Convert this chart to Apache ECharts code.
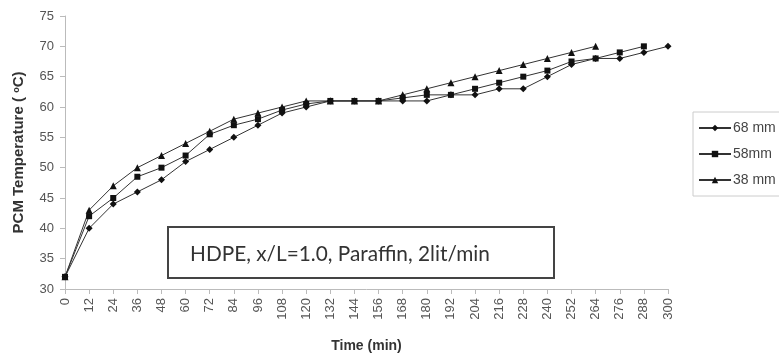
<!DOCTYPE html>
<html>
<head>
<meta charset="utf-8">
<script src="https://cdn.jsdelivr.net/npm/echarts@6/dist/echarts.min.js"></script>
<style>
html,body{margin:0;padding:0;background:#fff;}
#chart{width:779px;height:358px;}
</style>
</head>
<body>
<div id="chart"></div>
<script>
var timeLabels = ['0','12','24','36','48','60','72','84','96','108','120','132','144','156','168','180','192','204','216','228','240','252','264','276','288','300'];
var s68 = [32,40,44,46,48,51,53,55,57,59,60,61,61,61,61,61,62,62,63,63,65,67,68,68,69,70];
var s58 = [32,42,45,48.5,50,52,55.5,57,58,59.5,60.5,61,61,61,61.5,62,62,63,64,65,66,67.5,68,69,70];
var s38 = [32,43,47,50,52,54,56,58,59,60,61,61,61,61,62,63,64,65,66,67,68,69,70];
var seriesNames = ['68 mm','58mm','38 mm'];
var annotation = 'HDPE, x/L=1.0, Paraffin, 2lit/min';

var chart = echarts.init(document.getElementById('chart'));
var lineStyle = {color:'#333', width:1};
function mk(name, data, symbol, size){
  return {name:name, type:'line', data:data, symbol:symbol, symbolSize:size,
    showAllSymbol:true, lineStyle:lineStyle, itemStyle:{color:'#111'}, animation:false};
}
var F = 'Liberation Sans, Arial';
chart.setOption({
  animation:false,
  grid:{left:65, right:111, top:16, bottom:68},
  legend:{
    orient:'vertical', left:693, top:112, width:140,
    data:seriesNames,
    itemWidth:32, itemHeight:8, itemGap:12,
    padding:[9,60,9,5],
    borderColor:'#ccc', borderWidth:1,
    textStyle:{fontFamily:F, fontSize:14, color:'#444', padding:[0,0,0,-3]}
  },
  xAxis:{
    type:'category', data:timeLabels, boundaryGap:false,
    name:'Time (min)', nameLocation:'middle', nameGap:50,
    nameTextStyle:{fontFamily:F, fontWeight:'bold', fontSize:14, color:'#333'},
    axisLine:{lineStyle:{color:'#bbb'}},
    axisTick:{show:true, alignWithLabel:true, lineStyle:{color:'#bbb'}},
    axisLabel:{rotate:90, fontFamily:F, fontSize:13, color:'#555', interval:0, margin:9}
  },
  yAxis:{
    type:'value', min:30, max:75, interval:5,
    name:'{a|PCM Temperature ( }{s|o}{a|C)}', nameLocation:'middle', nameGap:38,
    nameTextStyle:{rich:{
      a:{fontFamily:F, fontWeight:'bold', fontSize:15, color:'#333'},
      s:{fontFamily:F, fontWeight:'bold', fontSize:9, color:'#333', verticalAlign:'top', lineHeight:10, padding:[0,0,8,0]}
    }},
    axisLine:{show:true, lineStyle:{color:'#bbb'}},
    axisTick:{show:true, lineStyle:{color:'#bbb'}},
    splitLine:{show:false},
    axisLabel:{fontFamily:F, fontSize:13, color:'#555', margin:11}
  },
  series:[
    mk(seriesNames[0], s68, 'diamond', 7),
    mk(seriesNames[1], s58, 'rect', 6),
    mk(seriesNames[2], s38, 'triangle', 7)
  ],
  graphic:[{
    type:'group', left:167, top:226,
    children:[
      {type:'rect', shape:{x:0,y:0,width:386,height:51}, style:{fill:'#fff', stroke:'#444', lineWidth:2}},
      {type:'text', x:22, y:27, style:{text:annotation, fontFamily:'Lato, Open Sans', fontSize:20.8, fill:'#333', textVerticalAlign:'middle'}}
    ]
  }]
});
</script>
</body>
</html>
